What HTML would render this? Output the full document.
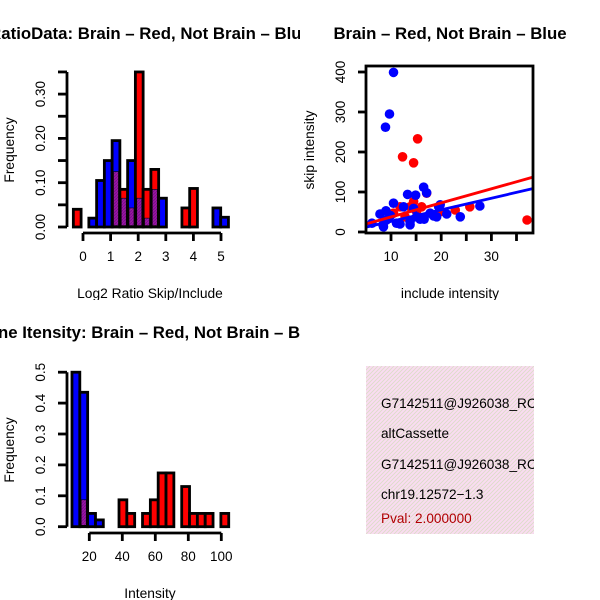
<!DOCTYPE html>
<html><head><meta charset="utf-8"><style>
html,body{margin:0;padding:0;background:#fff;}
svg{display:block;font-family:"Liberation Sans",Arial,sans-serif;}
</style></head><body>
<svg id="c" width="600" height="600" viewBox="0 0 600 600">
<defs>
<clipPath id="p1"><rect x="0" y="0" width="300" height="300"/></clipPath>
<clipPath id="p2"><rect x="300" y="0" width="300" height="300"/></clipPath>
<clipPath id="p3"><rect x="0" y="300" width="300" height="300"/></clipPath>
<clipPath id="box2"><rect x="366" y="66" width="167" height="167"/></clipPath>
<clipPath id="box4"><rect x="366" y="366" width="168" height="168"/></clipPath>
<pattern id="hatch" width="4" height="4" patternUnits="userSpaceOnUse">
<rect width="4" height="4" fill="#fadcf2"/>
<path d="M-1,1 l2,-2 M0,4 l4,-4 M3,5 l2,-2" stroke="#dcdcc8" stroke-width="0.9"/>
</pattern>
<pattern id="purp" width="3" height="3" patternUnits="userSpaceOnUse">
<rect width="3" height="3" fill="#9a1aa0"/>
<path d="M0,3 l3,-3" stroke="#7a0a90" stroke-width="1"/>
</pattern>
</defs>
<g id="g1" clip-path="url(#p1)"></g>
<g id="g2" clip-path="url(#p2)"></g>
<g id="g3" clip-path="url(#p3)"></g>
<g id="g4">
<rect x="366" y="366" width="168" height="168" fill="url(#hatch)"/>
<g clip-path="url(#box4)" font-size="13.6">
<text x="381" y="408">G7142511@J926038_RC</text>
<text x="381" y="438">altCassette</text>
<text x="381" y="469">G7142511@J926038_RC</text>
<text x="381" y="499">chr19.12572−1.3</text>
<text x="381" y="523" fill="#b00000">Pval: 2.000000</text>
</g>
</g>
</svg>
<script>
// ---- Panel 1 data ----
const ratioRed  = [0.04,0,0,0,0,0.125,0.085,0.043,0.35,0.085,0.13,0,0,0,0.043,0.087,0,0,0,0];
const ratioBlue = [0,0,0.02,0.105,0.15,0.195,0.065,0.15,0.065,0.02,0.085,0.065,0,0,0,0,0,0,0.043,0.022];
const ratioBinStart = -0.35, ratioBinWidth = 0.281;
const ratioYTicks = [0,0.05,0.10,0.15,0.20,0.25,0.30,0.35];
const ratioYLabels = ["0.00","","0.10","","0.20","","0.30",""];
const ratioXTicks = [0,1,2,3,4,5];
// ---- Panel 2 data ----
const blueX = [10.5,9.7,8.9,16.5,17.1,13.3,14.9,10.5,12.5,9,7.8,19.5,21.1,27.7,23.8,18.5,6.2,8.5,11.8,13.8,16.6,15.1,9.1,19.8,17.8,19.1,8.4,11.1,13.8,15.8,14.5,9.9];
const blueY = [399,295,262,112,98,94,92,72,63,53,45,63,45,65,38,40,22,13,20,18,32,38,30,68,47,38,18,22,26,32,59,41];
const redX = [15.3,12.3,14.5,17.1,37.1,25.7,22.8,14.5,19.8,11.8,16.1,13.8,10.5,12.8,15.1];
const redY = [233,188,173,97,30,63,55,76,51,63,63,63,47,38,51];
const redFit = [2.4,3.52];
const blueFit = [-2.5,2.9];
const scatXTicks = [10,15,20,25,30,35];
const scatXLabels = ["10","","20","","30",""];
const scatYTicks = [0,100,200,300,400];
// ---- Panel 3 data ----
const intRed  = [0,0.087,0,0,0,0,0.087,0.043,0,0.043,0.087,0.174,0.174,0,0.13,0.043,0.043,0.043,0,0.043];
const intBlue = [0.5,0.435,0.043,0.022,0,0,0,0,0,0,0,0,0,0,0,0,0,0,0,0];
const intBinStart = 9.5, intBinWidth = 4.75;
const intYTicks = [0,0.1,0.2,0.3,0.4,0.5];
const intYLabels = ["0.0","0.1","0.2","0.3","0.4","0.5"];
const intXTicks = [20,40,60,80,100];

const NS="http://www.w3.org/2000/svg";
function mk(p,tag,at,txt){const e=document.createElementNS(NS,tag);for(const k in at)e.setAttribute(k,at[k]);if(txt!==undefined)e.textContent=txt;p.appendChild(e);return e;}

function histPanel(g,red,blue,bStart,bW,xs,ys,yTicks,yLabels,xTicks,xTickLabels,title,xlab,cy,xAxisY,yTop){
  for(let i=0;i<red.length;i++){
    const r=red[i],b=blue[i];
    const x0=xs(bStart+i*bW),x1=xs(bStart+(i+1)*bW);
    const hi=Math.max(r,b),lo=Math.min(r,b);
    if(hi<=0)continue;
    const bar=mk(g,'rect',{x:x0,y:ys(hi),width:x1-x0,height:ys(0)-ys(hi),fill:r>=b?'#ff0000':'#0000ff',stroke:'#000','stroke-width':2.8});
    
    
    if(lo>0){
      const ov=mk(g,'rect',{x:x0+1.4,y:ys(lo),width:x1-x0-2.8,height:ys(0)-ys(lo)-1.4,fill:'url(#purp)',stroke:'#000','stroke-width':0.6});
      
      
    }
  }
  const ya=mk(g,'g',{});
  
  
  mk(ya,'line',{x1:67,x2:67,y1:ys(yTicks[0]),y2:ys(yTicks[yTicks.length-1]),stroke:'#000','stroke-width':2.8});
  yTicks.forEach((t,i)=>{
    mk(ya,'line',{x1:58,x2:67,y1:ys(t),y2:ys(t),stroke:'#000','stroke-width':2.8});
    if(yLabels[i]){mk(ya,'text',{x:0,y:0,'font-size':13.5,'text-anchor':'middle',transform:`translate(45,${ys(t)}) rotate(-90)`},yLabels[i]);}
  });
  const xa=mk(g,'g',{});
  
  
  mk(xa,'line',{x1:xs(xTicks[0]),x2:xs(xTicks[xTicks.length-1]),y1:xAxisY,y2:xAxisY,stroke:'#000','stroke-width':2.8});
  xTicks.forEach((t,i)=>{
    mk(xa,'line',{x1:xs(t),x2:xs(t),y1:xAxisY,y2:xAxisY+8,stroke:'#000','stroke-width':2.8});
    mk(xa,'text',{x:xs(t),y:xAxisY+28,'font-size':13.5,'text-anchor':'middle'},xTickLabels[i]);
  });
  const tt=mk(g,'text',{x:150,y:cy,'font-size':16.8,'font-weight':'bold','text-anchor':'middle'},title);
  
  
  const xl=mk(g,'text',{x:150,y:xAxisY+65,'font-size':13.8,'text-anchor':'middle'},xlab);
  
  
  const yl=mk(g,'text',{x:0,y:0,'font-size':13.8,'text-anchor':'middle',transform:`translate(14,${yTop}) rotate(-90)`},'Frequency');
  
  
}

// Panel 1
(function(){
  const g=document.getElementById('g1');
  const xs=v=>83+v*27.6, ys=v=>227-v*443;
  histPanel(g,ratioRed,ratioBlue,ratioBinStart,ratioBinWidth,xs,ys,ratioYTicks,ratioYLabels,ratioXTicks,ratioXTicks.map(String),
    'RatioData: Brain – Red, Not Brain – Blue','Log2 Ratio Skip/Include',39,233,150);
})();
// Panel 3
(function(){
  const g=document.getElementById('g3');
  const xs=v=>89.3+(v-20)*1.65, ys=v=>526.7-v*309;
  histPanel(g,intRed,intBlue,intBinStart,intBinWidth,xs,ys,intYTicks,intYLabels,intXTicks,intXTicks.map(String),
    'Gene Itensity: Brain – Red, Not Brain – Blue','Intensity',338,533,450);
})();
// Panel 2
(function(){
  const g=document.getElementById('g2');
  const xs=v=>391+(v-10)*5.02, ys=v=>232-v*0.4;
  const pg=mk(g,'g',{'clip-path':'url(#box2)'});
  redX.forEach((x,i)=>{const c=mk(pg,'circle',{cx:xs(x),cy:ys(redY[i]),r:4.8,fill:'#ff0000'});
    
    });
  blueX.forEach((x,i)=>{const c=mk(pg,'circle',{cx:xs(x),cy:ys(blueY[i]),r:4.8,fill:'#0000ff'});
    
    });
  const x0=0,x1=45;
  const bl=mk(pg,'line',{x1:xs(x0),y1:ys(blueFit[0]+blueFit[1]*x0),x2:xs(x1),y2:ys(blueFit[0]+blueFit[1]*x1),stroke:'#0000ff','stroke-width':2.8});
  
  
  const rl=mk(pg,'line',{x1:xs(x0),y1:ys(redFit[0]+redFit[1]*x0),x2:xs(x1),y2:ys(redFit[0]+redFit[1]*x1),stroke:'#ff0000','stroke-width':2.8});
  
  
  const box=mk(g,'rect',{x:366,y:66,width:167,height:167,fill:'none',stroke:'#000','stroke-width':2.8});
  
  
  scatXTicks.forEach((t,i)=>{
    mk(g,'line',{x1:xs(t),x2:xs(t),y1:233,y2:241,stroke:'#000','stroke-width':2.8});
    if(scatXLabels[i])mk(g,'text',{x:xs(t),y:261,'font-size':13.5,'text-anchor':'middle'},scatXLabels[i]);
  });
  scatYTicks.forEach(t=>{
    mk(g,'line',{x1:358,x2:366,y1:ys(t),y2:ys(t),stroke:'#000','stroke-width':2.8});
    mk(g,'text',{x:0,y:0,'font-size':13.5,'text-anchor':'middle',transform:`translate(345,${ys(t)}) rotate(-90)`},String(t));
  });
  const tt=mk(g,'text',{x:450,y:39,'font-size':16.8,'font-weight':'bold','text-anchor':'middle'},'Brain – Red, Not Brain – Blue');
  
  
  const xl=mk(g,'text',{x:450,y:298,'font-size':13.8,'text-anchor':'middle'},'include intensity');
  
  
  const yl=mk(g,'text',{x:0,y:0,'font-size':13.8,'text-anchor':'middle',transform:'translate(314,150) rotate(-90)'},'skip intensity');
  
  
})();
</script>
</body></html>
